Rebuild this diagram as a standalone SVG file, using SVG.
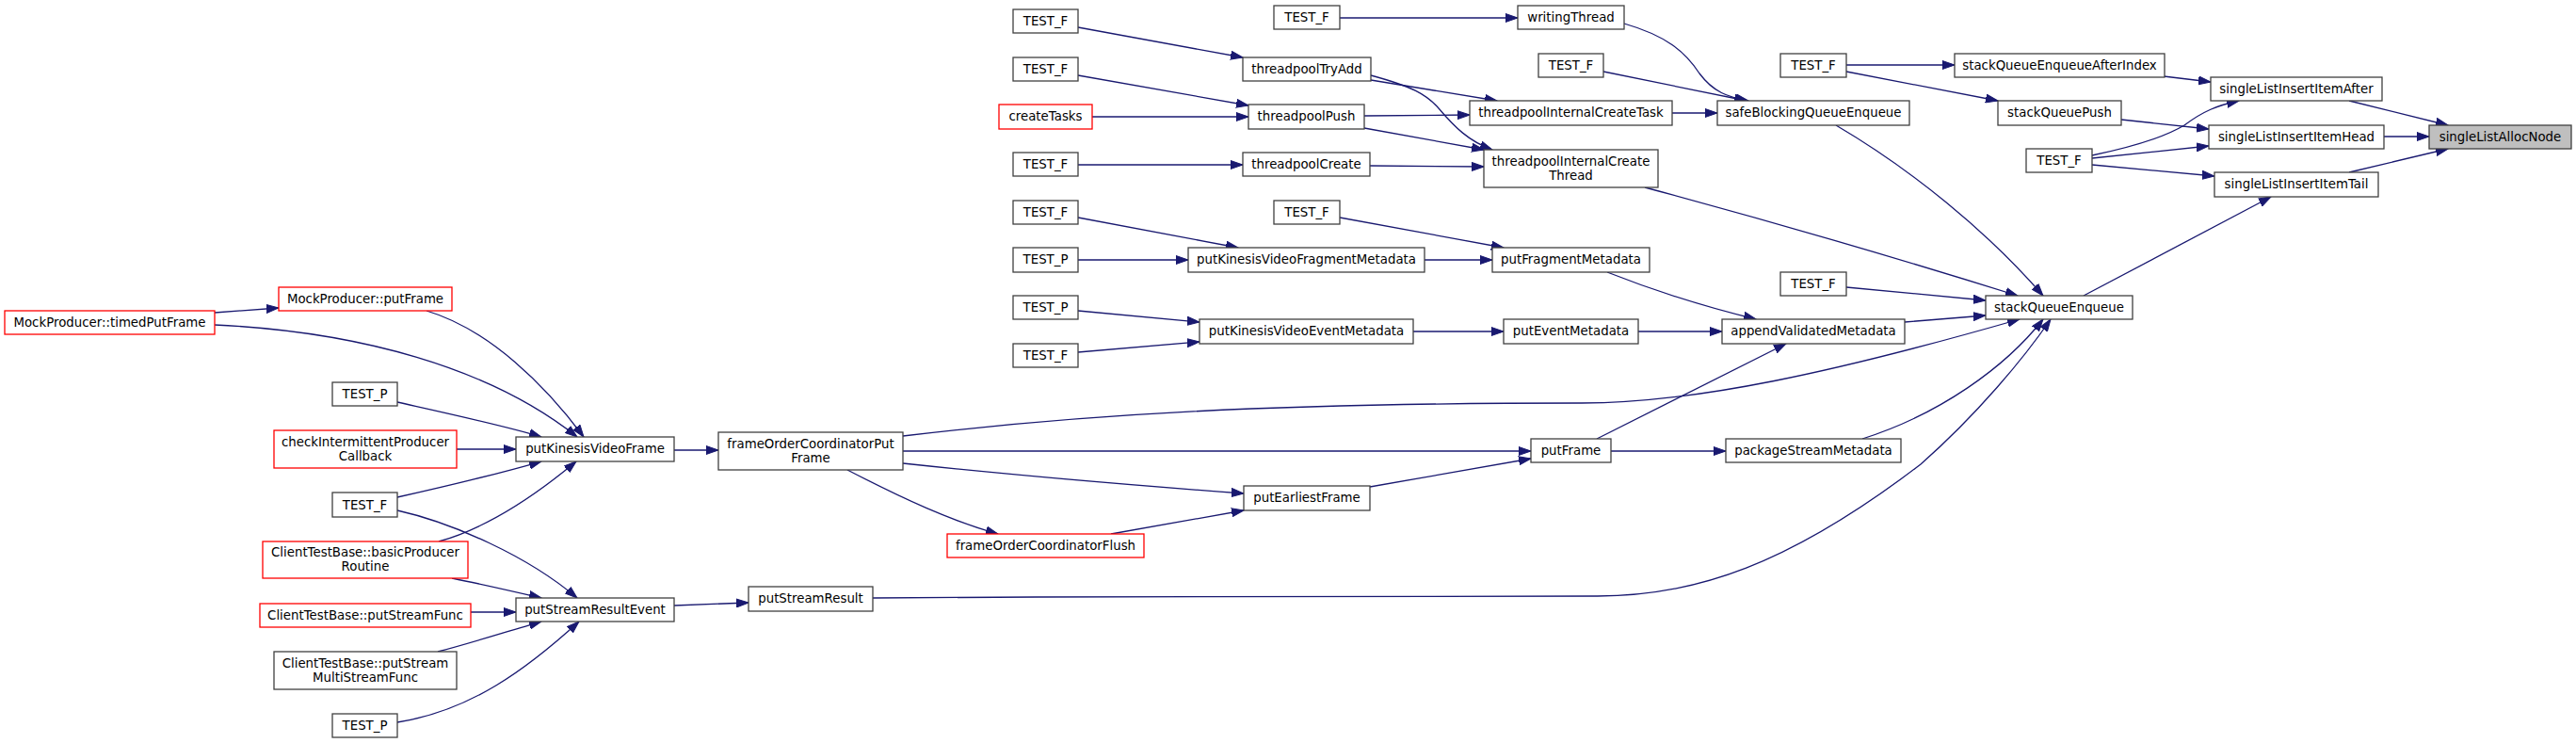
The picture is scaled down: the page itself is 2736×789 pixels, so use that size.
<svg xmlns="http://www.w3.org/2000/svg" width="2736" height="789" viewBox="0 0 2736 789">
<style>
rect{fill:#fff;stroke:#404040;stroke-width:1.3}
rect.r{stroke:#ff0000}
rect.g{fill:#bfbfbf}
text{font-family:"DejaVu Sans","Liberation Sans",sans-serif;font-size:13.33px;fill:#000;text-anchor:middle}
#edges path{fill:none;stroke:#191970;stroke-width:1.3;marker-end:url(#ah)}
</style>
<defs>
<marker id="ah" markerWidth="14" markerHeight="10" refX="13" refY="5" orient="auto" markerUnits="userSpaceOnUse">
<path d="M0,0.5 L13,5 L0,9.5 z" fill="#191970" stroke="#191970" stroke-width="1"/>
</marker>
</defs>
<rect x="0" y="0" width="2736" height="789" style="fill:#fff;stroke:none"/>
<g id="edges">
<path d="M228,332 L296,327"/>
<path d="M228,345 C380,352 520,390 613,464"/>
<path d="M453,330 C520,350 580,410 620,464"/>
<path d="M422,427 C480,440 540,453 575,464"/>
<path d="M485,477 L548,477"/>
<path d="M422,528 C480,515 540,500 575,490"/>
<path d="M422,542 C480,555 560,590 613,635"/>
<path d="M466,575 C520,560 570,525 612,490"/>
<path d="M480,614 C510,620 545,628 575,635"/>
<path d="M500,650 L548,650"/>
<path d="M465,692 C500,683 540,670 575,660"/>
<path d="M422,767 C500,755 560,710 615,660"/>
<path d="M716,478 L763,478"/>
<path d="M716,643 L795,640"/>
<path d="M959,463 C1150,440 1350,428 1680,428 C1800,428 1950,395 2145,339"/>
<path d="M959,479 L1626,479"/>
<path d="M959,492 C1080,505 1200,515 1321,524"/>
<path d="M900,499 C960,530 1010,553 1060,567"/>
<path d="M1180,567 L1321,542"/>
<path d="M1455,517 L1626,487"/>
<path d="M1696,466 L1897,365"/>
<path d="M1711,479 L1833,479"/>
<path d="M1978,466 C2060,440 2130,390 2170,339"/>
<path d="M927,635 C1200,633 1500,633 1697,633 C1800,633 1900,600 2040,493 C2100,440 2150,380 2178,339"/>
<path d="M2023,342 L2109,335"/>
<path d="M1740,352 L1829,352"/>
<path d="M1707,289 C1760,310 1820,328 1865,339"/>
<path d="M1501,352 L1597,352"/>
<path d="M1145,330 L1274,342"/>
<path d="M1145,374 L1274,363"/>
<path d="M1513,276 L1585,276"/>
<path d="M1145,231 L1315,263"/>
<path d="M1145,276 L1262,276"/>
<path d="M1423,231 L1597,263"/>
<path d="M1145,175 L1320,175"/>
<path d="M1455,176 L1576,177"/>
<path d="M1449,136 L1576,159"/>
<path d="M1449,123 L1561,122"/>
<path d="M1456,85 L1590,107"/>
<path d="M1456,80 C1500,92 1515,100 1528,115 C1545,135 1560,150 1585,159"/>
<path d="M1145,29 L1320,61"/>
<path d="M1145,80 L1326,112"/>
<path d="M1160,124 L1326,124"/>
<path d="M1423,19 L1612,19"/>
<path d="M1725,25 C1770,38 1790,55 1805,78 C1820,98 1835,103 1857,107"/>
<path d="M1703,76 L1855,107"/>
<path d="M1776,120 L1824,120"/>
<path d="M1747,199 C1900,240 2050,285 2143,314"/>
<path d="M1950,133 C2030,180 2110,245 2170,314"/>
<path d="M1961,305 L2109,319"/>
<path d="M1961,69 L2076,69"/>
<path d="M1961,76 L2122,107"/>
<path d="M2298,81 L2348,87"/>
<path d="M2253,127 L2346,137"/>
<path d="M2222,165 C2270,155 2300,145 2320,133 C2340,118 2355,112 2378,107"/>
<path d="M2222,168 L2346,155"/>
<path d="M2222,175 L2352,187"/>
<path d="M2213,314 L2412,209"/>
<path d="M2495,107 L2600,133"/>
<path d="M2532,145 L2580,145"/>
<path d="M2495,183 L2600,158"/>
</g>
<g id="n1"><rect class="r" x="5" y="330" width="223" height="25"/><text x="116.5" y="346.5">MockProducer::timedPutFrame</text></g>
<g id="n2"><rect class="r" x="296" y="305" width="184" height="25"/><text x="388" y="321.5">MockProducer::putFrame</text></g>
<g id="n3"><rect x="353" y="406" width="69" height="25"/><text x="387.5" y="422.5">TEST_P</text></g>
<g id="n4"><rect class="r" x="291" y="457" width="194" height="40"/><text x="388" y="474">checkIntermittentProducer</text><text x="388" y="488.5">Callback</text></g>
<g id="n5"><rect x="353" y="523" width="69" height="26"/><text x="387.5" y="540.5">TEST_F</text></g>
<g id="n6"><rect class="r" x="279" y="575" width="218" height="39"/><text x="388" y="591">ClientTestBase::basicProducer</text><text x="388" y="605.5">Routine</text></g>
<g id="n7"><rect class="r" x="276" y="641" width="224" height="25"/><text x="388" y="657.5">ClientTestBase::putStreamFunc</text></g>
<g id="n8"><rect x="291" y="692" width="194" height="40"/><text x="388" y="709">ClientTestBase::putStream</text><text x="388" y="723.5">MultiStreamFunc</text></g>
<g id="n9"><rect x="353" y="758" width="69" height="25"/><text x="387.5" y="774.5">TEST_P</text></g>
<g id="n10"><rect x="548" y="464" width="168" height="26"/><text x="632" y="481">putKinesisVideoFrame</text></g>
<g id="n11"><rect x="548" y="635" width="168" height="25"/><text x="632" y="651.5">putStreamResultEvent</text></g>
<g id="n12"><rect x="763" y="459" width="196" height="40"/><text x="861" y="476">frameOrderCoordinatorPut</text><text x="861" y="490.5">Frame</text></g>
<g id="n13"><rect x="795" y="623" width="132" height="26"/><text x="861" y="640">putStreamResult</text></g>
<g id="n14"><rect x="1076" y="10" width="69" height="25"/><text x="1110.5" y="26.5">TEST_F</text></g>
<g id="n15"><rect x="1076" y="61" width="69" height="25"/><text x="1110.5" y="77.5">TEST_F</text></g>
<g id="n16"><rect class="r" x="1061" y="111" width="99" height="26"/><text x="1110.5" y="128">createTasks</text></g>
<g id="n17"><rect x="1076" y="162" width="69" height="25"/><text x="1110.5" y="178.5">TEST_F</text></g>
<g id="n18"><rect x="1076" y="213" width="69" height="25"/><text x="1110.5" y="229.5">TEST_F</text></g>
<g id="n19"><rect x="1076" y="263" width="69" height="26"/><text x="1110.5" y="280">TEST_P</text></g>
<g id="n20"><rect x="1076" y="314" width="69" height="25"/><text x="1110.5" y="330.5">TEST_P</text></g>
<g id="n21"><rect x="1076" y="365" width="69" height="25"/><text x="1110.5" y="381.5">TEST_F</text></g>
<g id="n22"><rect class="r" x="1006" y="567" width="209" height="25"/><text x="1110.5" y="583.5">frameOrderCoordinatorFlush</text></g>
<g id="n23"><rect x="1320" y="61" width="136" height="25"/><text x="1388" y="77.5">threadpoolTryAdd</text></g>
<g id="n24"><rect x="1326" y="111" width="123" height="26"/><text x="1387.5" y="128">threadpoolPush</text></g>
<g id="n25"><rect x="1320" y="162" width="135" height="25"/><text x="1387.5" y="178.5">threadpoolCreate</text></g>
<g id="n26"><rect x="1262" y="263" width="251" height="26"/><text x="1387.5" y="280">putKinesisVideoFragmentMetadata</text></g>
<g id="n27"><rect x="1274" y="339" width="227" height="26"/><text x="1387.5" y="356">putKinesisVideoEventMetadata</text></g>
<g id="n28"><rect x="1321" y="516" width="134" height="26"/><text x="1388" y="533">putEarliestFrame</text></g>
<g id="n29"><rect x="1353" y="6" width="70" height="25"/><text x="1388" y="22.5">TEST_F</text></g>
<g id="n30"><rect x="1353" y="213" width="70" height="25"/><text x="1388" y="229.5">TEST_F</text></g>
<g id="n31"><rect x="1612" y="6" width="113" height="25"/><text x="1668.5" y="22.5">writingThread</text></g>
<g id="n32"><rect x="1634" y="57" width="69" height="25"/><text x="1668.5" y="73.5">TEST_F</text></g>
<g id="n33"><rect x="1561" y="107" width="215" height="26"/><text x="1668.5" y="124">threadpoolInternalCreateTask</text></g>
<g id="n34"><rect x="1576" y="159" width="185" height="40"/><text x="1668.5" y="176">threadpoolInternalCreate</text><text x="1668.5" y="190.5">Thread</text></g>
<g id="n35"><rect x="1585" y="263" width="167" height="26"/><text x="1668.5" y="280">putFragmentMetadata</text></g>
<g id="n36"><rect x="1597" y="339" width="143" height="26"/><text x="1668.5" y="356">putEventMetadata</text></g>
<g id="n37"><rect x="1626" y="466" width="85" height="25"/><text x="1668.5" y="482.5">putFrame</text></g>
<g id="n38"><rect x="1824" y="107" width="204" height="26"/><text x="1926" y="124">safeBlockingQueueEnqueue</text></g>
<g id="n39"><rect x="1829" y="339" width="194" height="26"/><text x="1926" y="356">appendValidatedMetadata</text></g>
<g id="n40"><rect x="1833" y="466" width="186" height="25"/><text x="1926" y="482.5">packageStreamMetadata</text></g>
<g id="n41"><rect x="1891" y="57" width="70" height="25"/><text x="1926" y="73.5">TEST_F</text></g>
<g id="n42"><rect x="1891" y="289" width="70" height="25"/><text x="1926" y="305.5">TEST_F</text></g>
<g id="n43"><rect x="2076" y="57" width="223" height="25"/><text x="2187.5" y="73.5">stackQueueEnqueueAfterIndex</text></g>
<g id="n44"><rect x="2122" y="107" width="131" height="26"/><text x="2187.5" y="124">stackQueuePush</text></g>
<g id="n45"><rect x="2152" y="158" width="70" height="25"/><text x="2187" y="174.5">TEST_F</text></g>
<g id="n46"><rect x="2109" y="314" width="156" height="25"/><text x="2187" y="330.5">stackQueueEnqueue</text></g>
<g id="n47"><rect x="2348" y="82" width="182" height="25"/><text x="2439" y="98.5">singleListInsertItemAfter</text></g>
<g id="n48"><rect x="2346" y="133" width="186" height="25"/><text x="2439" y="149.5">singleListInsertItemHead</text></g>
<g id="n49"><rect x="2352" y="183" width="174" height="26"/><text x="2439" y="200">singleListInsertItemTail</text></g>
<g id="n50"><rect class="g" x="2580" y="133" width="151" height="25"/><text x="2655.5" y="149.5">singleListAllocNode</text></g>
</svg>
